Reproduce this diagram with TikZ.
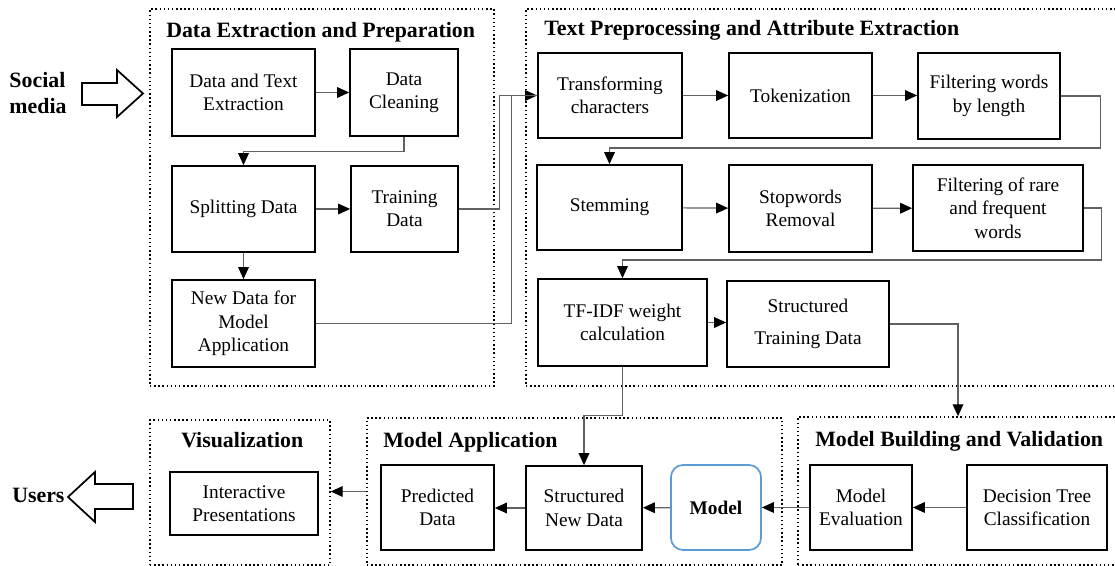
\documentclass[tikz,border=0pt]{standalone}
\usepackage{fontspec}
\setmainfont{Liberation Serif}
\usetikzlibrary{arrows.meta}
\tikzset{
  box/.style={draw, line width=1.3pt, align=center, inner sep=0pt, font=\fontsize{14.5}{17.5}\selectfont},
  mdlbox/.style={box, draw=modelblue, rounded corners=9pt, font=\bfseries\fontsize{14.5}{17.5}\selectfont},
  grp/.style={draw, dotted, line width=1.1pt, inner sep=0pt},
  ttl/.style={font=\bfseries\fontsize{16.4}{19}\selectfont, inner sep=0pt, anchor=base west},
  lbl/.style={font=\bfseries\fontsize{16.4}{19}\selectfont, inner sep=0pt, align=left},
  conn/.style={draw=black!62, line width=0.9pt, -{Triangle[length=9pt,width=8pt,color=black]}},
  plain/.style={draw=black!62, line width=0.9pt},
  bigarrow/.style={draw, line width=1.3pt, fill=white, line join=miter},
}
\definecolor{modelblue}{HTML}{5B9BD5}
\newcommand{\mknode}[7]{\node[#1, minimum width={(#4-#2)*0.75pt}, minimum height={(#5-#3)*0.75pt}] (#6) at ({(#2+#4)/2},{(#3+#5)/2}) {#7};}
\begin{document}
\begin{tikzpicture}[x=0.75pt, y=-0.75pt]
\useasboundingbox (0,0) rectangle (1115,566);

% group boxes
\mknode{grp}{150}{9}{494}{386}{gdep}{}
\mknode{grp}{526}{9}{1118}{386}{gtpa}{}
\mknode{grp}{150}{420}{330}{565}{gvis}{}
\mknode{grp}{367}{418}{782}{565}{gma}{}
\mknode{grp}{798}{417}{1118}{565}{gmbv}{}

% titles
\node[ttl] (tdep) at (166,38) {Data Extraction and Preparation};
\node[ttl] (ttpa) at (544,36) {Text Preprocessing and Attribute Extraction};
\node[ttl] (tvis) at (181,448) {Visualization};
\node[ttl] (tma) at (383,448) {Model Application};
\node[ttl] (tmbv) at (815,447) {Model Building and Validation};

% Data extraction nodes
\mknode{box}{172}{49}{315}{136}{dte}{Data and Text\\Extraction}
\mknode{box}{350}{49}{458}{136}{dc}{Data\\Cleaning}
\mknode{box}{172}{166}{315}{252}{sd}{Splitting Data}
\mknode{box}{351}{166}{458}{252}{td}{Training\\Data}
\mknode{box}{172}{280}{315}{367}{nd}{New Data for\\Model\\Application}

% Text preprocessing nodes
\mknode{box}{538}{53}{682}{138}{tc}{Transforming\\characters}
\mknode{box}{729}{53}{872}{138}{tok}{Tokenization}
\mknode{box}{918}{53}{1060}{139}{fwl}{Filtering words\\by length}
\mknode{box}{537}{165}{682}{250}{stem}{Stemming}
\mknode{box}{729}{165}{872}{252}{sw}{Stopwords\\Removal}
\mknode{box}{913}{165}{1083}{251}{frw}{\fontsize{14.5}{15.5}\selectfont Filtering of rare\\and frequent\\words}
\mknode{box}{538}{279}{707}{366}{tfidf}{TF-IDF weight\\calculation}
\mknode{box}{727}{281}{889}{367}{std}{Structured\\[6pt]Training Data}

% bottom nodes
\mknode{box}{170}{472}{318}{535}{ip}{Interactive\\Presentations}
\mknode{box}{381}{465}{494}{550}{pd}{Predicted\\Data}
\mknode{box}{526}{466}{642}{550}{snd}{Structured\\New Data}
\mknode{mdlbox}{671}{465}{761}{550}{mdl}{Model}
\mknode{box}{810}{465}{912}{550}{me}{Model\\Evaluation}
\mknode{box}{967}{465}{1107}{550}{dt}{Decision Tree\\Classification}

% side labels and block arrows
\node[lbl] (sm) at (38,93) {Social\\media};
\draw[bigarrow] (82,83) -- (117,83) -- (117,70) -- (143,93.5) -- (117,117) -- (117,105) -- (82,105) -- cycle;
\node[lbl, anchor=base west] (us) at (12,503) {Users};
\draw[bigarrow] (133,484) -- (95,484) -- (95,472) -- (68,497) -- (95,522) -- (95,509) -- (133,509) -- cycle;

% connectors: data extraction
\draw[conn] (dte) -- (dc);
\draw[conn] (dc.south) -- ++(0,15) -| (sd.north);
\draw[conn] (sd) -- (td);
\draw[conn] (sd) -- (nd);
\draw[conn] (td.east) -- ++(41,0) |- (tc.west);
\draw[plain] (nd.east) -- ++(196,0) |- (tc.west);

% connectors: text preprocessing
\draw[conn] (tc) -- (tok);
\draw[conn] (tok.east) -- (tok.east -| fwl.west);
\draw[plain] (fwl.east) -- ++(40,0) -- ++(0,52) coordinate (c1);
\draw[conn] (c1) -| (stem.north);
\draw[conn] (stem) -- (sw);
\draw[conn] (sw) -- (frw);
\draw[plain] (frw.east) -- ++(18,0) -- ++(0,52) coordinate (c2);
\draw[conn] (c2) -| (tfidf.north);
\draw[conn] (tfidf.east) -- (tfidf.east -| std.west);
\draw[conn] (std.east) -| (gmbv.north);
\draw[plain] (tfidf.south) -- ++(0,49) coordinate (c3);
\draw[conn] (c3) -| (snd.north);

% connectors: bottom
\draw[conn] (dt) -- (me);
\draw[conn] (me) -- (mdl);
\draw[conn] (mdl) -- (snd);
\draw[conn] (snd.west) -- (snd.west -| pd.east);
\draw[conn] (gma.west) -- (gma.west -| gvis.east);
\end{tikzpicture}
\end{document}
